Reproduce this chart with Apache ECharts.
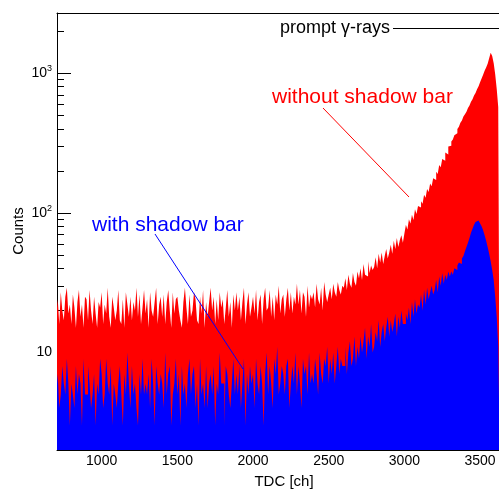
<!DOCTYPE html>
<html>
<head>
<meta charset="utf-8">
<script src="https://cdn.jsdelivr.net/npm/echarts@6/dist/echarts.min.js"></script>
<style>
  html, body { margin: 0; padding: 0; background: #fff; }
  #chart { width: 499px; height: 490px; }
</style>
</head>
<body>
<div id="chart"></div>
<script>
// histogram binning (TDC channels)
const binStart = 700;
const binWidth = 10;

// counts without shadow bar, one row = 100 ch
const withoutBar = [
  18, 24, 16, 27, 20, 17, 25, 29, 19, 22,
  16, 26, 21, 15, 23, 28, 18, 22, 15, 25,
  24, 17, 28, 20, 16, 25, 19, 15, 23, 21,
  27, 16, 22, 19, 29, 18, 15, 25, 21, 17,
  20, 28, 17, 16, 24, 15, 27, 22, 18, 25,
  17, 23, 20, 29, 18, 26, 16, 21, 28, 19,
  24, 15, 27, 20, 18, 23, 29, 16, 22, 25,
  18, 26, 16, 23, 28, 20, 15, 27, 19, 24,
  25, 20, 17, 15, 23, 29, 21, 16, 26, 18,
  20, 27, 24, 17, 16, 25, 19, 28, 15, 23,
  18, 23, 29, 20, 25, 16, 24, 17, 27, 21,
  24, 16, 21, 28, 18, 23, 15, 26, 20, 27,
  20, 25, 17, 23, 29, 16, 22, 27, 18, 21,
  25, 19, 28, 17, 23, 26, 16, 24, 29, 20,
  21, 28, 18, 25, 17, 26, 22, 30, 19, 24,
  26, 18, 24, 29, 20, 27, 19, 25, 22, 31,
  22, 28, 19, 27, 25, 18, 30, 21, 26, 24,
  27, 21, 31, 24, 22, 29, 20, 32, 26, 23,
  26, 29, 24, 31, 27, 25, 32, 28, 26, 30,
  29, 34, 28, 36, 31, 29, 37, 32, 30, 38,
  34, 40, 33, 43, 36, 35, 45, 37, 42, 39,
  41, 48, 40, 51, 44, 52, 43, 49, 55, 47,
  52, 59, 51, 63, 55, 66, 57, 64, 69, 61,
  71, 82, 76, 90, 84, 97, 89, 106, 98, 112,
  109, 121, 116, 135, 128, 148, 141, 162, 155, 177,
  172, 197, 190, 220, 212, 243, 236, 270, 262, 298,
  302, 324, 335, 360, 372, 398, 413, 441, 458, 489,
  508, 529, 563, 587, 624, 651, 693, 722, 768, 806,
  860, 915, 975, 1040, 1100, 1170, 1280, 1400, 1330, 1180,
  980, 770, 570
];

// counts with shadow bar
const withBar = [
  5, 7, 4, 5, 8, 6, 5, 9, 6, 3,
  6, 5, 4, 8, 5, 7, 6, 3, 9, 5,
  5, 8, 6, 4, 5, 7, 3, 6, 5, 9,
  7, 4, 5, 9, 6, 5, 8, 3, 6, 5,
  4, 6, 8, 5, 3, 7, 5, 10, 6, 4,
  8, 5, 6, 4, 3, 7, 5, 9, 5, 6,
  5, 7, 4, 9, 6, 3, 8, 6, 5, 7,
  6, 4, 10, 5, 7, 8, 3, 5, 6, 9,
  5, 7, 3, 8, 5, 6, 4, 7, 9, 5,
  7, 8, 4, 6, 3, 9, 5, 6, 4, 8,
  4, 6, 7, 5, 8, 3, 6, 5, 10, 6,
  6, 3, 8, 7, 5, 4, 6, 9, 5, 7,
  5, 8, 4, 6, 9, 3, 7, 5, 8, 6,
  7, 4, 9, 6, 5, 8, 6, 3, 7, 10,
  5, 8, 6, 4, 9, 7, 11, 5, 6, 8,
  7, 5, 8, 9, 4, 6, 8, 6, 10, 5,
  8, 6, 4, 9, 7, 8, 5, 10, 6, 7,
  6, 9, 7, 5, 10, 7, 6, 9, 8, 11,
  6, 9, 7, 10, 6, 8, 11, 7, 9, 8,
  8, 11, 7, 10, 12, 8, 9, 13, 8, 11,
  9, 13, 10, 12, 15, 9, 13, 11, 16, 10,
  11, 14, 12, 17, 11, 14, 16, 12, 15, 18,
  13, 17, 14, 16, 19, 13, 18, 15, 20, 16,
  16, 19, 17, 21, 16, 23, 18, 24, 19, 22,
  21, 26, 20, 28, 22, 29, 24, 27, 30, 26,
  28, 33, 27, 35, 30, 37, 31, 36, 33, 38,
  35, 38, 36, 40, 39, 42, 44, 43, 47, 49,
  53, 57, 61, 66, 72, 77, 82, 86, 88, 87,
  84, 80, 75, 69, 63, 57, 51, 45, 39, 33,
  25, 18, 11
];

const xTicks = [1000, 1500, 2000, 2500, 3000, 3500];
const yMajor = [10, 100, 1000];
const yMinor = [3, 4, 5, 6, 7, 8, 9, 20, 30, 40, 50, 60, 70, 80, 90,
  200, 300, 400, 500, 600, 700, 800, 900, 2000];

// step points: bin left edges + closing right edge
function toSteps(counts) {
  let pts = [];
  for (let i = 0; i < counts.length; i++) {
    pts.push([binStart + i * binWidth, counts[i]]);
  }
  pts.push([binStart + counts.length * binWidth, counts[counts.length - 1]]);
  return pts;
}

const font = "Liberation Sans, Arial, Helvetica, sans-serif";

let myChart = echarts.init(document.getElementById("chart"));
let option = {
  animation: false,
  grid: { left: 57, top: 13, right: 0, bottom: 40 },
  xAxis: [
    {
      type: "value",
      min: 705,
      max: 3625,
      splitLine: { show: false },
      axisLine: { lineStyle: { color: "#000", width: 1 } },
      axisTick: { inside: true, length: 14, customValues: xTicks, lineStyle: { color: "#000" } },
      axisLabel: {
        customValues: xTicks,
        color: "#000",
        fontSize: 14,
        fontFamily: font,
        margin: 4,
        formatter: function (v) { return String(v); }
      }
    },
    {
      type: "value",
      position: "top",
      min: 705,
      max: 3625,
      splitLine: { show: false },
      axisLine: { show: true, lineStyle: { color: "#000", width: 1 } },
      axisTick: { show: false },
      axisLabel: { show: false }
    }
  ],
  yAxis: [
    {
      type: "log",
      logBase: 10,
      min: 2,
      max: 2700,
      splitLine: { show: false },
      axisLine: { show: true, lineStyle: { color: "#000", width: 1 } },
      axisTick: { inside: true, length: 14, customValues: yMajor, lineStyle: { color: "#000" } },
      axisLabel: {
        customValues: yMajor,
        color: "#000",
        fontSize: 14,
        fontFamily: font,
        margin: 5,
        formatter: function (v) {
          let e = Math.round(Math.log10(v));
          if (e === 1) return "10";
          return "10{sup|" + e + "}";
        },
        rich: {
          sup: { fontSize: 9, fontFamily: font, color: "#000", verticalAlign: "bottom", padding: [0, 0, 9, 0] }
        }
      }
    },
    {
      type: "log",
      logBase: 10,
      min: 2,
      max: 2700,
      position: "left",
      splitLine: { show: false },
      axisLine: { show: false },
      axisTick: { inside: true, length: 7, customValues: yMinor, lineStyle: { color: "#000" } },
      axisLabel: { show: false }
    }
  ],
  series: [
    {
      name: "without shadow bar",
      type: "line",
      step: "end",
      symbol: "none",
      data: toSteps(withoutBar),
      lineStyle: { width: 0 },
      areaStyle: { color: "#ff0000", opacity: 1, origin: "start" },
      z: 2
    },
    {
      name: "with shadow bar",
      type: "line",
      step: "end",
      symbol: "none",
      data: toSteps(withBar),
      lineStyle: { width: 0 },
      areaStyle: { color: "#0000ff", opacity: 1, origin: "start" },
      z: 3
    }
  ],
  graphic: [
    {
      type: "text", x: 284, y: 482, z: 10,
      style: { text: "TDC [ch]", font: "15px " + font, fill: "#000", align: "center", verticalAlign: "middle" }
    },
    {
      type: "text", x: 19, y: 231, rotation: Math.PI / 2, z: 10,
      style: { text: "Counts", font: "15px " + font, fill: "#000", align: "center", verticalAlign: "middle" }
    },
    {
      type: "text", x: 280, y: 28, z: 10,
      style: { text: "prompt γ-rays", font: "18px " + font, fill: "#000", align: "left", verticalAlign: "middle" }
    },
    {
      type: "line", z: 10,
      shape: { x1: 393, y1: 28.5, x2: 499, y2: 28.5 },
      style: { stroke: "#000", lineWidth: 1 }
    },
    {
      type: "text", x: 272, y: 97, z: 10,
      style: { text: "without shadow bar", font: "21px " + font, fill: "#ff0000", align: "left", verticalAlign: "middle" }
    },
    {
      type: "line", z: 10,
      shape: { x1: 323, y1: 108, x2: 409, y2: 197 },
      style: { stroke: "#ff0000", lineWidth: 1 }
    },
    {
      type: "text", x: 92, y: 225, z: 10,
      style: { text: "with shadow bar", font: "21px " + font, fill: "#0000ff", align: "left", verticalAlign: "middle" }
    },
    {
      type: "line", z: 10,
      shape: { x1: 155, y1: 234, x2: 243, y2: 369 },
      style: { stroke: "#0000ff", lineWidth: 1 }
    }
  ]
};
if (option && typeof option === "object") myChart.setOption(option);
</script>
</body>
</html>
